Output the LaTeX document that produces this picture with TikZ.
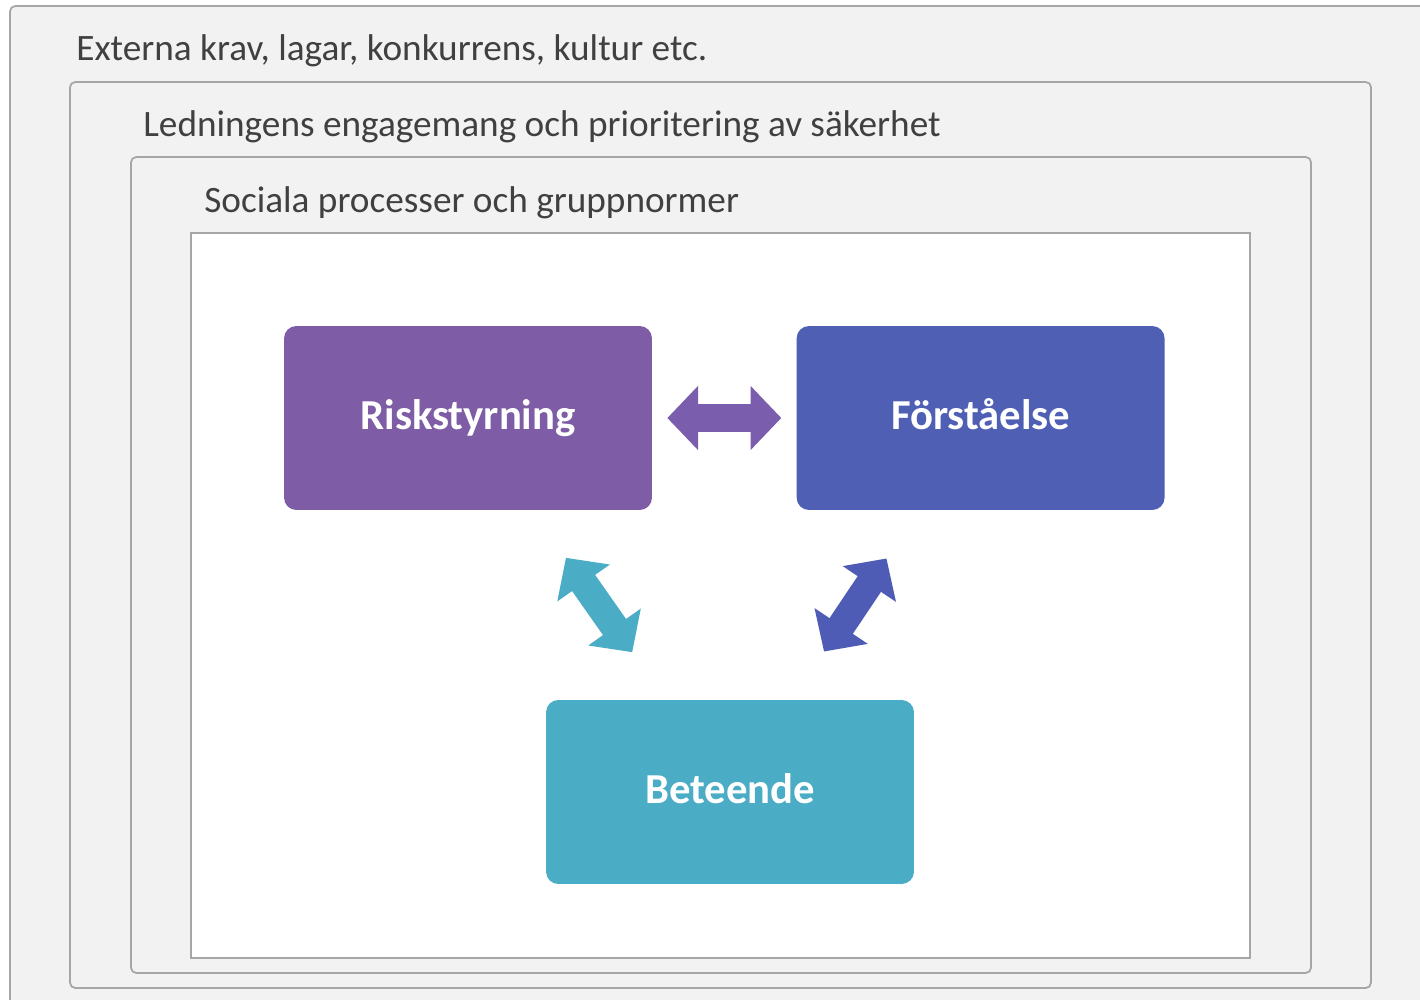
\documentclass[tikz,border=0pt]{standalone}
\usepackage{fontspec}
\setmainfont{Carlito}
\usepackage{tikz}
\usetikzlibrary{arrows.meta,positioning,calc}

\definecolor{frameline}{HTML}{A6A6A6}
\definecolor{framefill}{HTML}{F2F2F2}
\definecolor{labeltext}{HTML}{404040}
\definecolor{riskcol}{HTML}{7F5DA6}
\definecolor{forstcol}{HTML}{4F5FB4}
\definecolor{betcol}{HTML}{4BACC6}
\definecolor{arrowpurple}{HTML}{7A5DAD}
\definecolor{arrowblue}{HTML}{4E5CB5}

\begin{document}
\begin{tikzpicture}[x=0.02cm,y=-0.02cm,
	frame/.style={draw=frameline,line width=1pt,fill=framefill,rounded corners=3pt},
	framelabel/.style={anchor=base west,inner sep=0pt,text=labeltext,font=\fontsize{21.2}{25}\selectfont},
	block/.style={rounded corners=7pt,minimum width=7.36cm,minimum height=3.68cm,inner sep=0pt,text height=16pt,text depth=2.4pt,text=white,font=\fontsize{24.3}{28}\selectfont\bfseries},
	biarrow/.style={line width=16pt,{Triangle[length=17.5pt,width=35.5pt]}-{Triangle[length=17.5pt,width=35.5pt]}}]
	\useasboundingbox (0,0) rectangle (1420,1000);
	\clip (0,0) rectangle (1420,1000);
	\fill[white] (0,0) rectangle (1420,1000);

	\draw[frame] (10,6  ) rectangle (1440,1020);
	\draw[frame] (70,82 ) rectangle (1371,988 );
	\draw[frame] (131,157) rectangle (1311,973 );
	\draw[frame,fill=white,rounded corners=0pt] (191,233) rectangle (1250,958);

	\node[framelabel] (extern) at (76,61 ) {Externa krav, lagar, konkurrens, kultur etc.};
	\node[framelabel] (ledning) at (143,137) {Ledningens engagemang och prioritering av säkerhet};
	\node[framelabel] (social) at (204,213) {Sociala processer och gruppnormer};

	\node[block,fill=riskcol ] (risk) at (468,418) {Riskstyrning};
	\node[block,fill=forstcol,right=2.88cm of risk] (forst) {Förståelse};
	\node[block,fill=betcol  ] (bet) at (730,792) {Beteende};

	\draw[biarrow,arrowpurple,shorten <=0.3cm ,shorten >=0.3cm ] (risk) -- (forst);
	\draw[biarrow,betcol     ,shorten <=1.16cm,shorten >=1.16cm] (risk) -- (bet);
	\draw[biarrow,arrowblue  ,shorten <=1.16cm,shorten >=1.16cm] (forst) -- (bet);
\end{tikzpicture}
\end{document}
